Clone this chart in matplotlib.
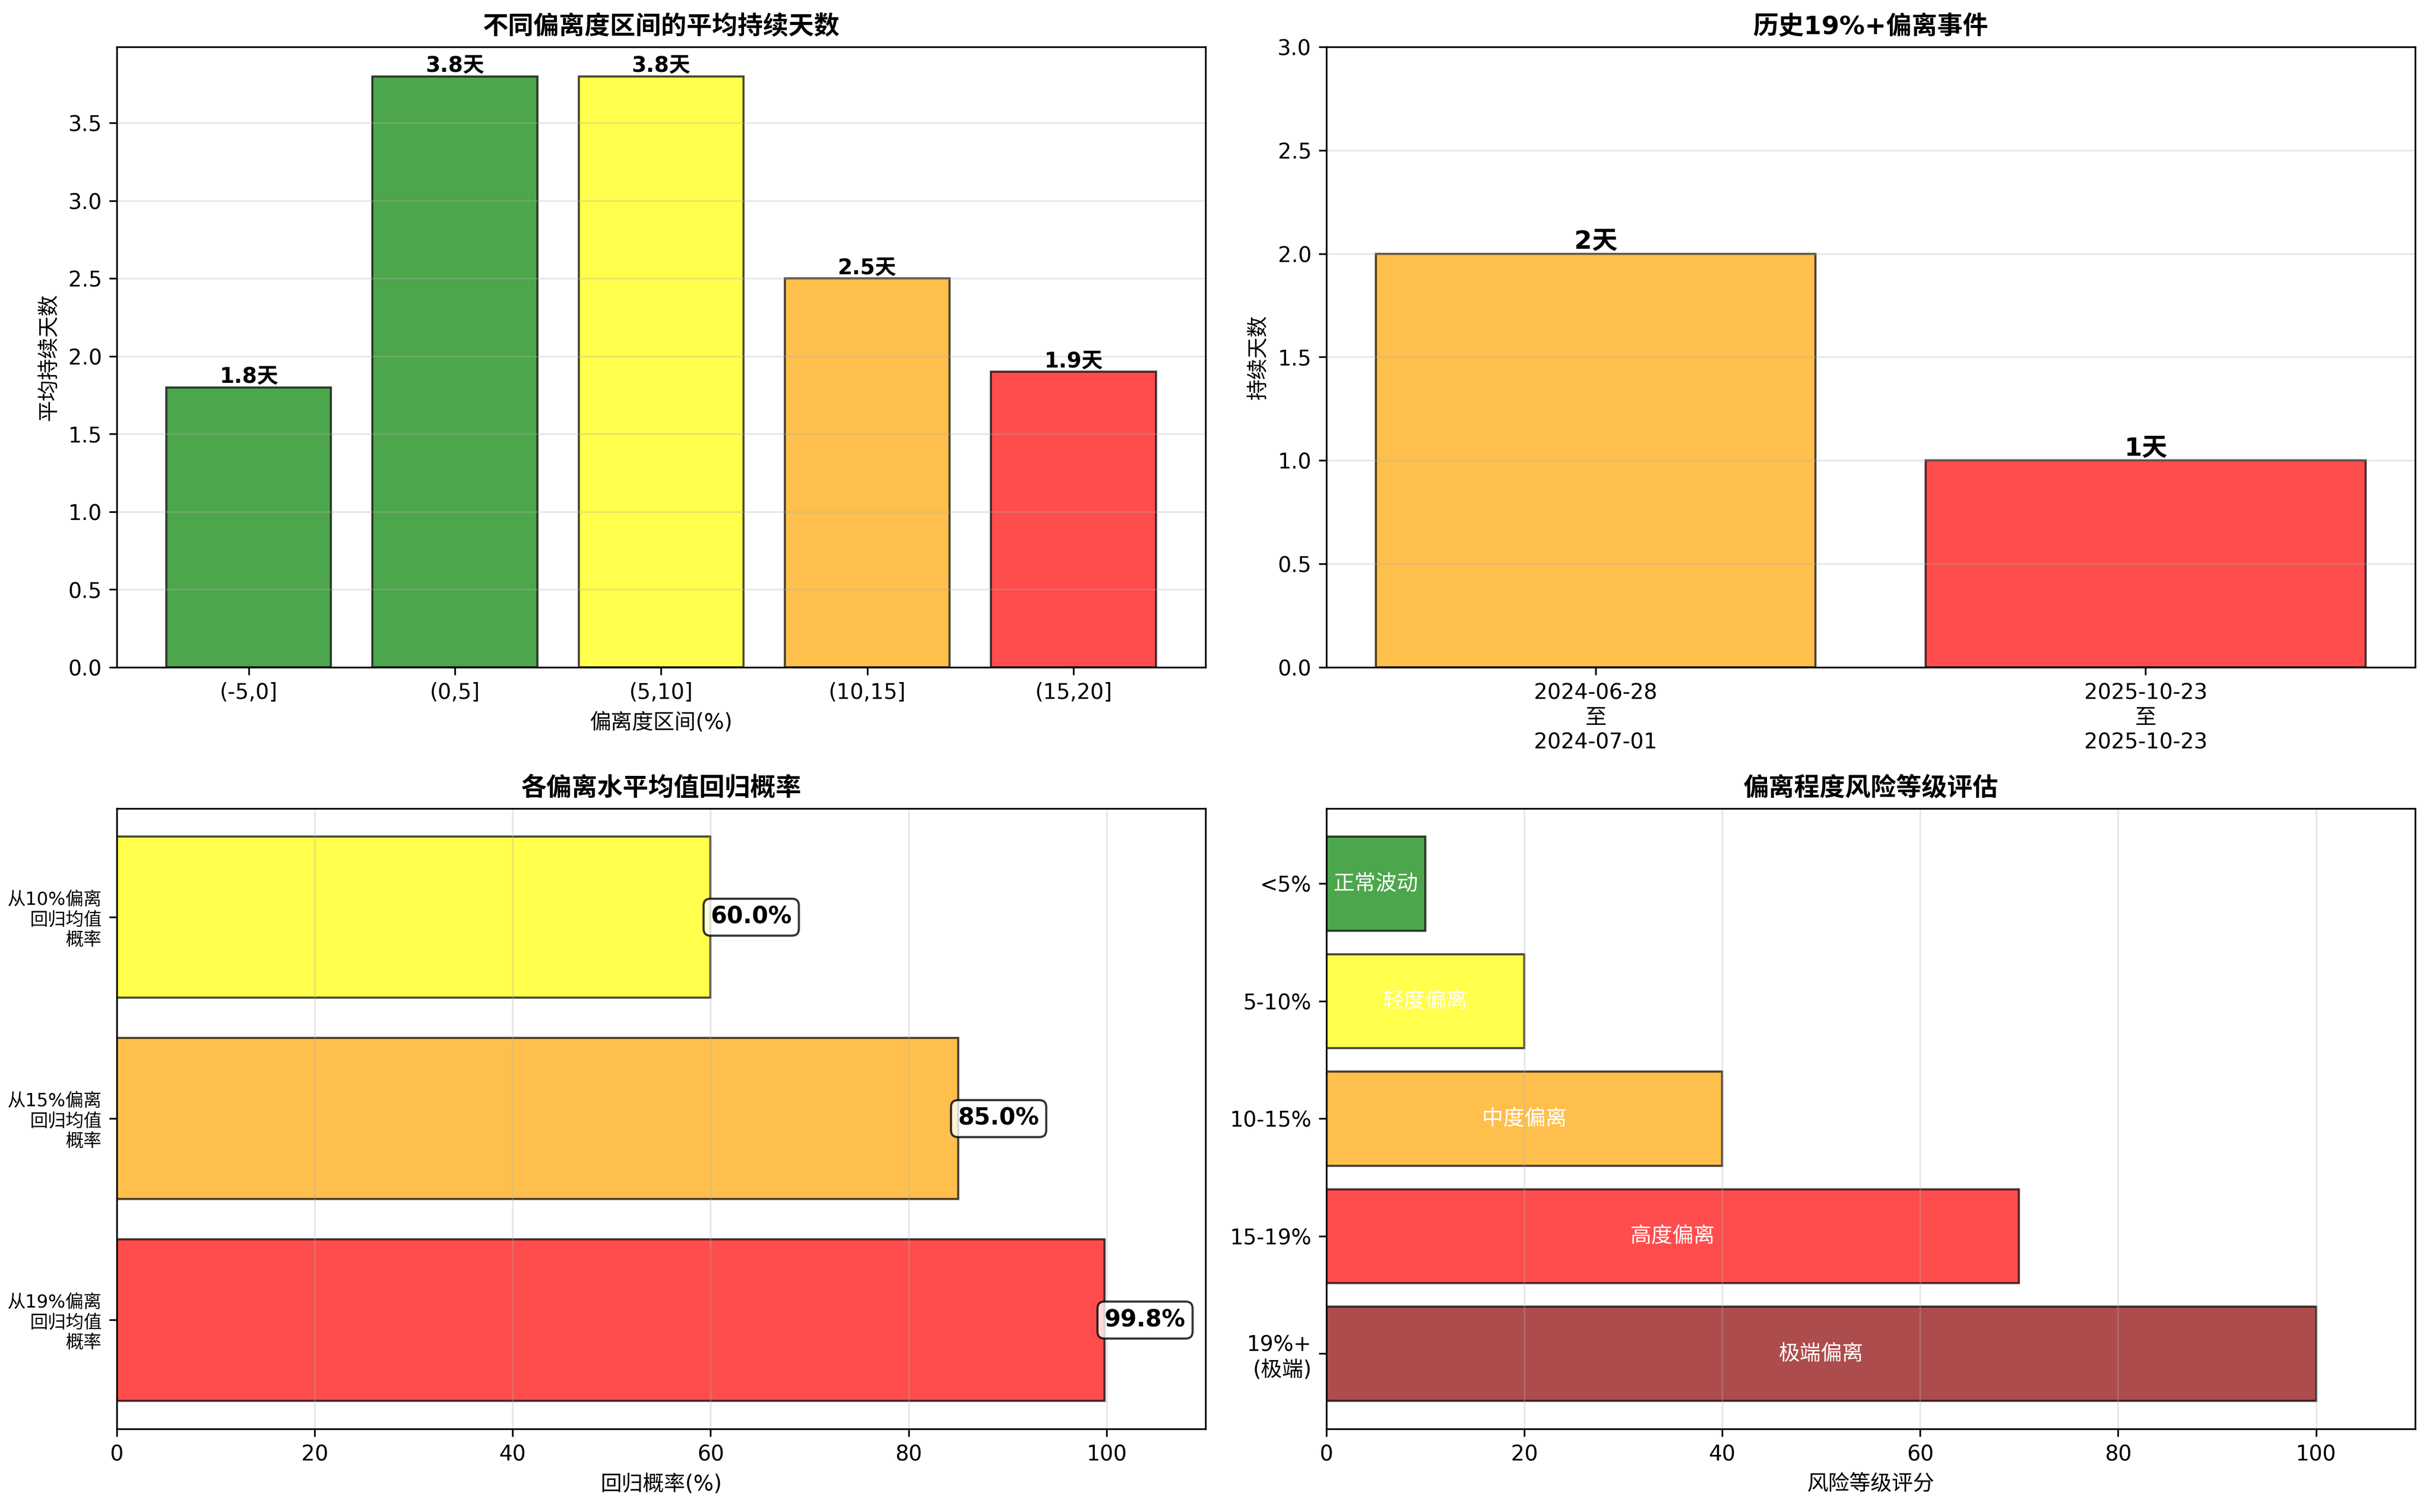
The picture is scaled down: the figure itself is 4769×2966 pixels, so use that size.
import matplotlib
matplotlib.use("Agg")
import matplotlib.pyplot as plt
import numpy as np

plt.rcParams['font.family'] = ['DejaVu Sans', 'Noto Sans CJK SC']
plt.rcParams['axes.unicode_minus'] = False

# ---- data ----
dur_bins = ['(-5,0]', '(0,5]', '(5,10]', '(10,15]', '(15,20]']
dur_days = [1.8, 3.8, 3.8, 2.5, 1.9]
dur_colors = ['green', 'green', 'yellow', 'orange', 'red']

event_labels = ['2024-06-28\n至\n2024-07-01', '2025-10-23\n至\n2025-10-23']
event_days = [2, 1]
event_colors = ['orange', 'red']

prob_labels = ['从10%偏离\n回归均值\n概率', '从15%偏离\n回归均值\n概率', '从19%偏离\n回归均值\n概率']
prob_values = [60.0, 85.0, 99.8]
prob_colors = ['yellow', 'orange', 'red']

risk_labels = ['<5%', '5-10%', '10-15%', '15-19%', '19%+\n(极端)']
risk_scores = [10, 20, 40, 70, 100]
risk_texts = ['正常波动', '轻度偏离', '中度偏离', '高度偏离', '极端偏离']
risk_colors = ['green', 'yellow', 'orange', 'red', 'darkred']

fig, axes = plt.subplots(2, 2, figsize=(15.897, 9.887), dpi=300)
fig.subplots_adjust(left=0.048, right=0.993, top=0.969, bottom=0.055,
                    wspace=0.111, hspace=0.2275)

# top-left
ax = axes[0, 0]
x = np.arange(len(dur_bins))
bars = ax.bar(x, dur_days, color=dur_colors, alpha=0.7, edgecolor='black')
for b, v in zip(bars, dur_days):
    ax.text(b.get_x() + b.get_width() / 2, v, f'{v}天', ha='center', va='bottom',
            fontweight='bold', fontsize=10)
ax.set_xticks(x)
ax.set_xticklabels(dur_bins)
ax.set_xlabel('偏离度区间(%)')
ax.set_ylabel('平均持续天数')
ax.set_title('不同偏离度区间的平均持续天数', fontweight='bold', fontsize=12)
ax.grid(True, axis='y', alpha=0.3)

# top-right
ax = axes[0, 1]
x2 = np.arange(len(event_labels))
bars = ax.bar(x2, event_days, color=event_colors, alpha=0.7, edgecolor='black')
for b, v in zip(bars, event_days):
    ax.text(b.get_x() + b.get_width() / 2, v, f'{v}天', ha='center', va='bottom',
            fontweight='bold', fontsize=12)
ax.set_xticks(x2)
ax.set_xticklabels(event_labels)
ax.set_ylabel('持续天数')
ax.set_ylim(0, 3)
ax.set_title('历史19%+偏离事件', fontweight='bold', fontsize=12)
ax.grid(True, axis='y', alpha=0.3)

# bottom-left
ax = axes[1, 0]
y3 = np.arange(len(prob_labels))
bars = ax.barh(y3, prob_values, color=prob_colors, alpha=0.7, edgecolor='black')
for b, v in zip(bars, prob_values):
    ax.text(v, b.get_y() + b.get_height() / 2, f'{v:.1f}%', ha='left', va='center',
            fontweight='bold', fontsize=11,
            bbox=dict(boxstyle='round,pad=0.3', facecolor='white', alpha=0.8))
ax.set_yticks(y3)
ax.set_yticklabels(prob_labels, fontsize=8.5)
ax.invert_yaxis()
ax.set_xlim(0, 110)
ax.set_xlabel('回归概率(%)')
ax.set_title('各偏离水平均值回归概率', fontweight='bold', fontsize=12)
ax.grid(True, axis='x', alpha=0.3)

# bottom-right
ax = axes[1, 1]
y4 = np.arange(len(risk_labels))
bars = ax.barh(y4, risk_scores, color=risk_colors, alpha=0.7, edgecolor='black')
for b, v, t in zip(bars, risk_scores, risk_texts):
    ax.text(v / 2, b.get_y() + b.get_height() / 2, t, ha='center', va='center',
            color='white', fontsize=10)
ax.set_yticks(y4)
ax.set_yticklabels(risk_labels)
ax.invert_yaxis()
ax.set_xlim(0, 110)
ax.set_xlabel('风险等级评分')
ax.set_title('偏离程度风险等级评估', fontweight='bold', fontsize=12)
ax.grid(True, axis='x', alpha=0.3)

fig.savefig('out.png', dpi=300)
